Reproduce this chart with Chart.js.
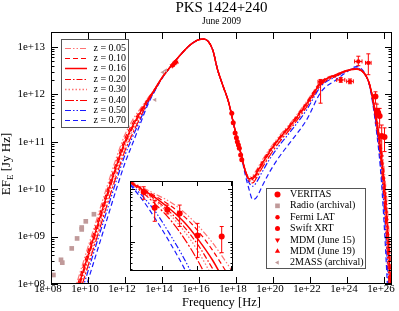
<!DOCTYPE html>
<html>
<head>
<meta charset="utf-8">
<script src="https://cdn.jsdelivr.net/npm/chart.js@4.4.1/dist/chart.umd.min.js"></script>
<style>
  html, body { margin: 0; padding: 0; background: #fff; }
  #wrap { position: relative; width: 399px; height: 311px; }
  #main { position: absolute; left: 0; top: 0; }
  #inset { position: absolute; left: 126px; top: 177px; }
</style>
</head>
<body>
<div id="wrap">
  <canvas id="main" width="399" height="311"></canvas>
  <canvas id="inset" width="111" height="98"></canvas>
</div>
<script>
// ---- model curves: log10(nu / Hz) and log10(EF_E / Jy Hz), one list per redshift
const logNu = [9.2, 9.6, 10.0, 10.5, 11.0, 11.5, 12.0, 12.4, 12.8, 13.2, 13.6, 14.0, 14.5, 15.0, 15.5, 16.0, 16.25, 16.5, 16.75, 17.0, 17.3, 17.6, 17.9, 18.2, 18.5, 18.7, 18.9, 19.1, 19.4, 19.8, 20.3, 21.0, 21.8, 22.6, 23.4, 24.0, 24.5, 24.9, 25.2, 25.4, 25.6, 25.8, 26.0, 26.2, 26.43];
const z005 = [7.78, 8.28, 8.78, 9.40, 10.02, 10.62, 11.15, 11.45, 11.68, 11.90, 12.11, 12.35, 12.60, 12.83, 13.03, 13.15, 13.16, 13.11, 12.92, 12.52, 12.17, 11.83, 11.32, 10.85, 10.40, 10.25, 10.28, 10.40, 10.60, 10.84, 11.10, 11.42, 11.84, 12.27, 12.42, 12.50, 12.52, 12.45, 12.24, 11.92, 11.50, 11.05, 10.45, 9.50, 8.05];
const z010 = [7.69, 8.19, 8.69, 9.31, 9.93, 10.53, 11.07, 11.38, 11.64, 11.88, 12.10, 12.35, 12.60, 12.83, 13.03, 13.15, 13.16, 13.11, 12.92, 12.52, 12.17, 11.83, 11.32, 10.85, 10.39, 10.24, 10.25, 10.37, 10.57, 10.81, 11.07, 11.40, 11.82, 12.26, 12.41, 12.50, 12.52, 12.45, 12.23, 11.90, 11.46, 10.97, 10.30, 9.28, 7.72];
const z016 = [7.60, 8.10, 8.60, 9.22, 9.85, 10.45, 11.00, 11.32, 11.60, 11.86, 12.10, 12.35, 12.60, 12.83, 13.03, 13.15, 13.16, 13.11, 12.92, 12.52, 12.17, 11.83, 11.32, 10.85, 10.39, 10.22, 10.22, 10.33, 10.53, 10.78, 11.05, 11.37, 11.79, 12.24, 12.41, 12.50, 12.53, 12.45, 12.23, 11.89, 11.43, 10.90, 10.16, 9.08, 7.41];
const z020 = [7.54, 8.04, 8.54, 9.16, 9.79, 10.40, 10.95, 11.28, 11.57, 11.85, 12.09, 12.34, 12.60, 12.83, 13.03, 13.15, 13.16, 13.11, 12.92, 12.52, 12.17, 11.83, 11.32, 10.85, 10.38, 10.21, 10.20, 10.30, 10.51, 10.76, 11.03, 11.35, 11.77, 12.23, 12.40, 12.49, 12.53, 12.46, 12.23, 11.87, 11.40, 10.85, 10.06, 8.92, 7.18];
const z030 = [7.46, 7.96, 8.46, 9.08, 9.71, 10.32, 10.88, 11.22, 11.53, 11.83, 12.09, 12.34, 12.60, 12.83, 13.03, 13.15, 13.16, 13.11, 12.92, 12.52, 12.17, 11.83, 11.32, 10.85, 10.38, 10.19, 10.17, 10.27, 10.47, 10.73, 11.00, 11.33, 11.75, 12.22, 12.39, 12.49, 12.53, 12.46, 12.22, 11.86, 11.37, 10.78, 9.93, 8.74, 6.90];
const z040 = [7.38, 7.88, 8.38, 9.00, 9.63, 10.24, 10.81, 11.16, 11.49, 11.81, 12.08, 12.34, 12.60, 12.83, 13.03, 13.15, 13.16, 13.11, 12.92, 12.52, 12.17, 11.83, 11.32, 10.85, 10.37, 10.18, 10.13, 10.23, 10.44, 10.69, 10.97, 11.30, 11.72, 12.20, 12.38, 12.49, 12.54, 12.46, 12.22, 11.84, 11.33, 10.71, 9.79, 8.53, 6.60];
const z050 = [7.27, 7.77, 8.27, 8.90, 9.52, 10.14, 10.72, 11.09, 11.44, 11.79, 12.07, 12.34, 12.60, 12.83, 13.03, 13.15, 13.16, 13.11, 12.92, 12.52, 12.17, 11.83, 11.32, 10.85, 10.36, 10.14, 10.06, 10.14, 10.35, 10.62, 10.90, 11.24, 11.66, 12.17, 12.37, 12.49, 12.55, 12.46, 12.21, 11.82, 11.28, 10.62, 9.62, 8.28, 6.21];
const z070 = [7.07, 7.57, 8.07, 8.70, 9.33, 9.96, 10.55, 10.95, 11.35, 11.75, 12.06, 12.33, 12.60, 12.83, 13.03, 13.15, 13.16, 13.11, 12.92, 12.52, 12.17, 11.83, 11.32, 10.85, 10.30, 10.00, 9.78, 9.82, 10.05, 10.35, 10.66, 11.02, 11.45, 12.05, 12.30, 12.47, 12.58, 12.48, 12.20, 11.78, 11.20, 10.45, 9.30, 7.80, 5.50];
const zLabels = ['z = 0.05', 'z = 0.10', 'z = 0.16', 'z = 0.20', 'z = 0.30', 'z = 0.40', 'z = 0.50', 'z = 0.70'];

// ---- inset (VHE zoom) curves, same redshift order
const insetNu = [25.45, 25.526, 25.615, 25.703, 25.791, 25.879, 25.968, 26.056, 26.097];
const inZ005 = [12.16, 12.04, 11.90, 11.76, 11.56, 11.30, 10.98, 10.60, 10.41];
const inZ010 = [12.16, 12.02, 11.86, 11.69, 11.48, 11.20, 10.84, 10.42, 10.23];
const inZ016 = [12.14, 12.00, 11.83, 11.62, 11.37, 11.04, 10.65, 10.18, 10.00];
const inZ020 = [12.14, 11.99, 11.79, 11.56, 11.28, 10.93, 10.49, 10.04, 9.83];
const inZ030 = [12.14, 11.97, 11.76, 11.51, 11.20, 10.81, 10.32, 9.79, 9.56];
const inZ040 = [12.13, 11.95, 11.70, 11.42, 11.06, 10.62, 10.09, 9.48, 9.21];
const inZ050 = [12.11, 11.88, 11.55, 11.13, 10.67, 10.14, 9.56, 8.95, 8.69];
const inZ070 = [12.09, 11.81, 11.41, 10.97, 10.49, 9.91, 9.30, 8.60, 8.34];

// ---- measurements (log10 values, error bars as log offsets)
const veritasNu = [25.536, 25.605, 25.684, 25.762, 25.874, 26.026];
const veritasF = [11.95, 11.65, 11.61, 11.54, 11.12, 11.10];
const veritasUp = [0.10, 0.14, 0.09, 0.16, 0.23, 0.19];
const veritasDn = [0.14, 0.26, 0.08, 0.25, 0.42, 0.31];
const radioNu = [8.13, 8.54, 8.61, 9.12, 9.41, 9.66, 9.66, 9.88, 10.32];
const radioF = [8.19, 8.51, 8.45, 8.75, 8.96, 9.19, 9.15, 9.32, 9.47];
const fermiNu = [22.57, 23.66, 24.16, 24.61, 25.15];
const fermiF = [12.26, 12.30, 12.27, 12.69, 12.66];
const fermiNuErr = [0.14, 0.22, 0.18, 0.20, 0.15];
const fermiUp = [0.05, 0.05, 0.05, 0.11, 0.19];
const fermiDn = [0.45, 0.05, 0.05, 0.09, 0.25];
const xrtNu = [17.77, 17.85, 17.95, 18.02, 18.07, 18.13, 18.18, 18.25, 18.31];
const xrtF = [11.60, 11.40, 11.18, 11.08, 11.00, 10.93, 10.86, 10.72, 10.62];
const mdm15Nu = [14.55, 14.62, 14.68, 14.75];
const mdm15F = [12.60, 12.62, 12.65, 12.67];
const mdm19Nu = [14.57, 14.64, 14.70, 14.78];
const mdm19F = [12.61, 12.64, 12.66, 12.68];
const twomassNu = [13.62, 14.05, 14.20];
const twomassF = [11.88, 12.46, 12.50];

const xTickExp = [8, 10, 12, 14, 16, 18, 20, 22, 24, 26];
const yTickExp = [8, 9, 10, 11, 12, 13];
const insetXTicks = [25.654, 25.869, 26.085];

// ---- styling
const SERIF = "'Liberation Serif', 'Times New Roman', serif";
const RED = '#ff0000', PALE = 'rgba(255,0,0,0.55)', BLUE = '#1a1aff', ROSY = '#c09a9a';
const curveStyle = [
  { color: PALE, dash: [6, 2, 1.5, 2, 1.5, 2], width: 1.2 },
  { color: RED, dash: [5, 3], width: 1.2 },
  { color: RED, dash: [], width: 1.5 },
  { color: RED, dash: [6, 2, 1.5, 2], width: 1.2 },
  { color: PALE, dash: [1.5, 2], width: 1.3 },
  { color: RED, dash: [9, 2, 2, 2], width: 1.2 },
  { color: BLUE, dash: [6, 2, 1.5, 2, 1.5, 2], width: 1.2 },
  { color: BLUE, dash: [5, 3], width: 1.2 }
];

const pts = (lx, ly) => lx.map((v, i) => ({ x: 10 ** v, y: 10 ** ly[i] }));

function curveSets(nu, lists) {
    return lists.map((ly, i) => ({
        label: zLabels[i],
        data: pts(nu, ly),
        showLine: true,
        pointRadius: 0,
        borderColor: curveStyle[i].color,
        borderDash: curveStyle[i].dash,
        borderWidth: curveStyle[i].width,
        cubicInterpolationMode: 'monotone',
        order: 2,
        isCurve: true
    }));
}

function marker(label, data, style, color, radius, rotation) {
    return {
        label: label, data: data, showLine: false,
        pointStyle: style, pointRotation: rotation || 0,
        pointRadius: radius, backgroundColor: color, borderColor: color,
        borderWidth: 0, order: 0, isMarker: true
    };
}

const veritasSet = Object.assign(marker('VERITAS', pts(veritasNu, veritasF), 'circle', RED, 3),
    { errUp: veritasUp, errDn: veritasDn });
const pointSets = [
    veritasSet,
    marker('Radio (archival)', pts(radioNu, radioF), 'rect', ROSY, 3.3),
    Object.assign(marker('Fermi LAT', pts(fermiNu, fermiF), 'circle', RED, 2.2),
        { errUp: fermiUp, errDn: fermiDn, errX: fermiNuErr }),
    marker('Swift XRT', pts(xrtNu, xrtF), 'circle', RED, 2.5),
    marker('MDM (June 15)', pts(mdm15Nu, mdm15F), 'triangle', RED, 3, 180),
    marker('MDM (June 19)', pts(mdm19Nu, mdm19F), 'triangle', RED, 3),
    marker('2MASS (archival)', pts(twomassNu, twomassF), 'triangle', ROSY, 2.5, -90)
];

function drawErrorBars(chart) {
    const { ctx, chartArea: a, scales: { x, y } } = chart;
    ctx.save();
    ctx.beginPath();
    ctx.rect(a.left, a.top, a.width, a.height);
    ctx.clip();
    ctx.lineWidth = 1;
    chart.data.datasets.forEach(ds => {
        if (!ds.errUp) return;
        ctx.strokeStyle = ds.borderColor;
        ds.data.forEach((d, k) => {
            const px = x.getPixelForValue(d.x);
            const py = y.getPixelForValue(d.y);
            const top = y.getPixelForValue(d.y * 10 ** ds.errUp[k]);
            const bot = y.getPixelForValue(d.y / 10 ** ds.errDn[k]);
            ctx.beginPath();
            ctx.moveTo(px, top); ctx.lineTo(px, bot);
            ctx.moveTo(px - 2, top); ctx.lineTo(px + 2, top);
            ctx.moveTo(px - 2, bot); ctx.lineTo(px + 2, bot);
            if (ds.errX) {
                const l = x.getPixelForValue(d.x / 10 ** ds.errX[k]);
                const r = x.getPixelForValue(d.x * 10 ** ds.errX[k]);
                ctx.moveTo(l, py); ctx.lineTo(r, py);
                ctx.moveTo(l, py - 2); ctx.lineTo(l, py + 2);
                ctx.moveTo(r, py - 2); ctx.lineTo(r, py + 2);
            }
            ctx.stroke();
        });
    });
    ctx.restore();
}

// frame with inward ticks on all four sides
function drawFrame(ctx, a, xs, ys, xVals, yDecades, major, minor) {
    ctx.save();
    ctx.strokeStyle = '#000';
    ctx.lineWidth = 1;
    ctx.strokeRect(a.left + 0.5, a.top + 0.5, a.width - 1, a.height - 1);
    ctx.beginPath();
    xVals.forEach(v => {
        const px = Math.round(xs.getPixelForValue(v)) + 0.5;
        ctx.moveTo(px, a.bottom); ctx.lineTo(px, a.bottom - major);
        ctx.moveTo(px, a.top); ctx.lineTo(px, a.top + major);
    });
    yDecades.forEach(e => {
        for (let k = 1; k <= 9; k++) {
            const v = k * 10 ** e;
            if (v < ys.min || v > ys.max) continue;
            const py = Math.round(ys.getPixelForValue(v)) + 0.5;
            const len = k === 1 ? major : minor;
            ctx.moveTo(a.left, py); ctx.lineTo(a.left + len, py);
            ctx.moveTo(a.right, py); ctx.lineTo(a.right - len, py);
        }
    });
    ctx.stroke();
    ctx.restore();
}

const mainDecor = {
    id: 'mainDecor',
    afterDatasetsDraw(chart) {
        drawErrorBars(chart);
    },
    afterDraw(chart) {
        const { ctx, chartArea: a, scales: { x, y } } = chart;
        drawFrame(ctx, a, x, y, xTickExp.map(e => 10 ** e), [7, 8, 9, 10, 11, 12, 13], 7, 3.5);
        const cx = (a.left + a.right) / 2;
        ctx.save();
        ctx.fillStyle = '#000';
        ctx.textAlign = 'center';
        ctx.textBaseline = 'middle';
        ctx.font = '15px ' + SERIF;
        ctx.fillText('PKS 1424+240', cx, 8);
        ctx.font = '9.5px ' + SERIF;
        ctx.fillText('June 2009', cx, 21.5);
        ctx.font = '12.5px ' + SERIF;
        ctx.fillText('Frequency [Hz]', cx, 303);
        // y title with subscript
        ctx.translate(7, 164);
        ctx.rotate(-Math.PI / 2);
        ctx.textAlign = 'left';
        ctx.textBaseline = 'middle';
        const p1 = 'EF', p2 = 'E', p3 = ' [Jy Hz]';
        ctx.font = '13px ' + SERIF;
        const w1 = ctx.measureText(p1).width, w3 = ctx.measureText(p3).width;
        ctx.font = '9px ' + SERIF;
        const w2 = ctx.measureText(p2).width;
        const sx = -(w1 + w2 + w3) / 2;
        ctx.font = '13px ' + SERIF;
        ctx.fillText(p1, sx, 0);
        ctx.font = '9px ' + SERIF;
        ctx.fillText(p2, sx + w1, 4);
        ctx.font = '13px ' + SERIF;
        ctx.fillText(p3, sx + w1 + w2, 0);
        ctx.restore();

        // legend of model curves
        const curves = chart.data.datasets.filter(d => d.isCurve);
        ctx.save();
        ctx.fillStyle = '#fff';
        ctx.fillRect(61, 39, 68, 89);
        ctx.strokeStyle = '#555';
        ctx.lineWidth = 1;
        ctx.strokeRect(61.5, 39.5, 67, 88);
        ctx.font = '10px ' + SERIF;
        ctx.textBaseline = 'middle';
        curves.forEach((d, i) => {
            const ry = Math.round(47.7 + i * 10.37) + 0.5;
            ctx.strokeStyle = d.borderColor;
            ctx.lineWidth = d.borderWidth;
            ctx.setLineDash(d.borderDash);
            ctx.beginPath();
            ctx.moveTo(65, ry); ctx.lineTo(87, ry);
            ctx.stroke();
            ctx.setLineDash([]);
            ctx.fillStyle = '#000';
            ctx.fillText(d.label, 93.5, ry);
        });
        // legend of measurements
        const marks = chart.data.datasets.filter(d => d.isMarker);
        ctx.fillStyle = '#fff';
        ctx.fillRect(266, 188, 100, 81);
        ctx.strokeStyle = '#555';
        ctx.lineWidth = 1;
        ctx.strokeRect(266.5, 188.5, 99, 80);
        marks.forEach((d, i) => {
            const ry = 194.5 + i * 11.35;
            ctx.fillStyle = d.backgroundColor;
            ctx.strokeStyle = d.borderColor;
            Chart.helpers.drawPoint(ctx, {
                pointStyle: d.pointStyle, radius: d.pointRadius,
                rotation: d.pointRotation, borderWidth: 0
            }, 277.5, ry);
            ctx.fillStyle = '#000';
            ctx.fillText(d.label, 290, ry);
        });
        ctx.restore();
    }
};

const expLabel = v => '1e+' + String(Math.round(Math.log10(v))).padStart(2, '0');

new Chart(document.getElementById('main'), {
    type: 'scatter',
    data: {
        datasets: pointSets.concat(curveSets(logNu, [z005, z010, z016, z020, z030, z040, z050, z070]))
    },
    options: {
        responsive: false,
        animation: false,
        devicePixelRatio: 1,
        layout: { padding: { top: 32, right: 7, left: 0, bottom: 0 } },
        plugins: { legend: { display: false }, tooltip: { enabled: false } },
        scales: {
            x: {
                type: 'logarithmic', min: 1e8, max: 10 ** 26.43,
                afterFit: s => { s.height = 27; },
                afterBuildTicks: s => { s.ticks = xTickExp.map(e => ({ value: 10 ** e })); },
                grid: { display: false, drawTicks: false },
                border: { display: false },
                ticks: {
                    autoSkip: false, maxRotation: 0, padding: -1, labelOffset: -3, color: '#000',
                    font: { family: SERIF, size: 11 }, callback: expLabel
                }
            },
            y: {
                type: 'logarithmic', min: 1e8, max: 10 ** 13.31,
                afterFit: s => { s.width = 51; },
                afterBuildTicks: s => { s.ticks = yTickExp.map(e => ({ value: 10 ** e })); },
                grid: { display: false, drawTicks: false },
                border: { display: false },
                ticks: {
                    autoSkip: false, padding: 6, color: '#000',
                    font: { family: SERIF, size: 11 }, callback: expLabel
                }
            }
        }
    },
    plugins: [mainDecor]
});

// ---- inset chart
const insetDecor = {
    id: 'insetDecor',
    beforeDraw(chart) {
        const { ctx, width, height } = chart;
        ctx.save();
        ctx.fillStyle = '#fff';
        ctx.fillRect(0, 0, width, height);
        ctx.restore();
    },
    afterDatasetsDraw(chart) {
        drawErrorBars(chart);
    },
    afterDraw(chart) {
        const { ctx, chartArea: a, scales: { x, y } } = chart;
        drawFrame(ctx, a, x, y, insetXTicks.map(e => 10 ** e), [10, 11, 12], 5, 2.5);
    }
};

new Chart(document.getElementById('inset'), {
    type: 'scatter',
    data: {
        datasets: [Object.assign({}, veritasSet)].concat(
            curveSets(insetNu, [inZ005, inZ010, inZ016, inZ020, inZ030, inZ040, inZ050, inZ070]))
    },
    options: {
        responsive: false,
        animation: false,
        devicePixelRatio: 1,
        layout: { padding: 0 },
        plugins: { legend: { display: false }, tooltip: { enabled: false } },
        scales: {
            x: { type: 'logarithmic', display: false, min: 10 ** 25.45, max: 10 ** 26.097 },
            y: { type: 'logarithmic', display: false, min: 10 ** 10.44, max: 10 ** 12.16 }
        }
    },
    plugins: [insetDecor]
});
</script>
</body>
</html>
